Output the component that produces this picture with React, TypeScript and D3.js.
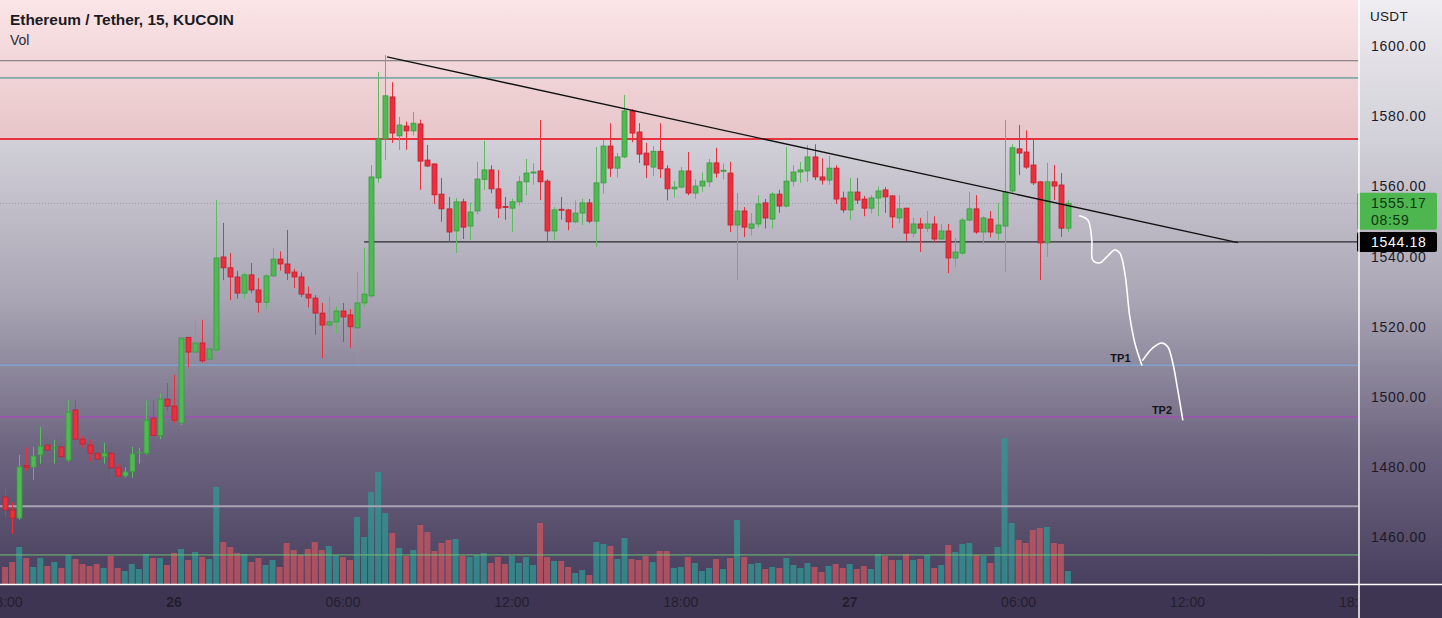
import React from 'react';
import * as d3 from 'd3';

// ---------- DATA ----------
const firstBarTime = Date.UTC(2023, 0, 25, 18, 0); // 25th 18:00, 15-minute bars
const barMs = 15 * 60 * 1000;

const opens = [
  1471.5, 1467.8, 1465.5, 1480.5, 1480, 1483.5, 1486.3, 1485.3, 1485.8, 1482, 1496.3, 1488, 1486.3, 1484, 1483, 1484, 1479.8, 1477.5, 1478.7, 1484, 1484, 1494, 1489, 1499.4,
  1497.4, 1492.6, 1517, 1512.8, 1515.4, 1510.8, 1513.4, 1539.9, 1536.8, 1534.2, 1529.6, 1534.8, 1530.5, 1527, 1534.5, 1539.3, 1537.9, 1535.6, 1534.2, 1529.3, 1528.2, 1523.9, 1520.5, 1521.4,
  1524.5, 1523.4, 1519.7, 1526.8, 1528.8, 1562.4, 1573.5, 1585.5, 1574.4, 1577.2, 1575.8, 1577.8, 1567.5, 1566.4, 1557.8, 1553.6, 1547.3, 1555.6, 1548.7, 1553, 1562, 1564.7, 1559.3, 1554.3,
  1553.8, 1555.6, 1561.3, 1564, 1564.4, 1561.5, 1547.3, 1553.5, 1553.3, 1549.9, 1552.4, 1555.3, 1550.1, 1561, 1571.5, 1565.2, 1568.4, 1581.5, 1575.5, 1569.5, 1565.5, 1570, 1565, 1559.3,
  1559.8, 1564.4, 1558.1, 1560.1, 1561.3, 1566.7, 1564.4, 1563.8, 1549, 1553, 1548.1, 1549.3, 1555.3, 1550.7, 1557.8, 1554.4, 1561.5, 1564.1, 1564.4, 1568.4, 1562.7, 1561.8, 1565.2, 1556.7,
  1553.3, 1558.4, 1556.4, 1553.8, 1556.7, 1559, 1557.3, 1551, 1553.8, 1546.7, 1549.3, 1548.1, 1549.3, 1545, 1547.3, 1539.6, 1541, 1550.4, 1553.6, 1547, 1550.7, 1546.7, 1548.7, 1558.7,
  1570.7, 1569.8, 1566.1, 1561.3, 1543.9, 1561.3, 1560.4, 1548.1,
];
const highs = [
  1474, 1470, 1483.5, 1485.6, 1485.8, 1491.5, 1488.6, 1487.8, 1488.6, 1499.1, 1499, 1489, 1487.9, 1487, 1487, 1487, 1481, 1480, 1485.8, 1485.5, 1499, 1499, 1501, 1504,
  1506.3, 1517.2, 1517.1, 1521.9, 1522, 1514.5, 1556.1, 1549.6, 1541, 1536, 1535.5, 1538.2, 1533.9, 1535, 1542.5, 1541.5, 1547.6, 1536.5, 1535.5, 1531.5, 1529, 1526.8, 1528.5, 1525.9,
  1526.8, 1525, 1535.6, 1542.5, 1566.1, 1592.6, 1597.4, 1589.7, 1579.8, 1578.5, 1581.2, 1579, 1571.8, 1566.5, 1562.4, 1557, 1556.7, 1556.5, 1555.3, 1567, 1573, 1566, 1564.7, 1557,
  1556.5, 1563, 1567.8, 1566.6, 1578.9, 1562, 1554.1, 1557, 1553.5, 1556, 1556.5, 1556.4, 1571.2, 1573.2, 1578, 1569.5, 1586, 1582, 1578, 1572.4, 1571.5, 1578, 1566, 1561.5,
  1565.5, 1569.8, 1562, 1564, 1567.8, 1571, 1566.5, 1567, 1558.1, 1554.1, 1552.4, 1557.5, 1556.4, 1558.4, 1559, 1571.2, 1566, 1567, 1571.8, 1572, 1568, 1568.7, 1566, 1558.5,
  1562.4, 1562.4, 1557.3, 1557.5, 1560, 1559.8, 1557.5, 1557.5, 1553.9, 1551, 1551, 1553, 1551.5, 1549.3, 1549.3, 1545.3, 1551, 1558.4, 1557.5, 1551.5, 1553, 1555.3, 1578.9, 1572,
  1577.5, 1576, 1573.2, 1561.5, 1566.7, 1566.1, 1563.8, 1556,
];
const lows = [
  1466, 1461, 1465, 1479, 1476.4, 1481, 1481, 1481, 1480, 1481.5, 1486.9, 1485.5, 1481.6, 1479.8, 1481, 1477, 1477, 1477, 1477, 1481, 1483.5, 1485.8, 1488, 1496,
  1492.6, 1492, 1508.5, 1512, 1509.7, 1510, 1513, 1533.3, 1527.6, 1528, 1528, 1529.6, 1524, 1525, 1534, 1536, 1533.3, 1531, 1528.5, 1525.5, 1517.7, 1511.1, 1519, 1518,
  1515.7, 1514, 1509.7, 1525.6, 1528, 1561, 1567.5, 1572.4, 1570.4, 1570.4, 1574.5, 1559, 1565.5, 1555, 1549.9, 1544.2, 1541, 1545, 1544.7, 1552, 1559, 1558, 1551, 1550.5,
  1547, 1554.5, 1557.5, 1560.5, 1556.1, 1544, 1544.7, 1550.5, 1547.5, 1549.5, 1549, 1549.5, 1542.7, 1557.9, 1562.7, 1562.5, 1568, 1572.6, 1566.7, 1562.4, 1563, 1562.4, 1556, 1556.8,
  1559.5, 1557.5, 1556.5, 1558.5, 1559.8, 1562.5, 1562, 1547, 1533.3, 1545.6, 1546, 1548.3, 1548, 1548, 1552.5, 1554, 1560, 1561, 1561.3, 1561.8, 1560.5, 1560.5, 1555, 1552.5,
  1550.4, 1555, 1551.5, 1552.3, 1551.5, 1552.5, 1548.1, 1549.5, 1544.5, 1545.5, 1541.3, 1547, 1544, 1544.8, 1535.3, 1537, 1540.5, 1550, 1546.5, 1543.6, 1545.5, 1544.7, 1535.6, 1558,
  1563.2, 1565, 1560.4, 1533.3, 1539.9, 1556.1, 1545.6, 1547,
];
const closes = [
  1467.8, 1465.5, 1480.1, 1480, 1483.2, 1486, 1484.9, 1485.6, 1483, 1495.7, 1488, 1486.6, 1484, 1482.3, 1484, 1479.8, 1477.5, 1478.7, 1483.8, 1484.3, 1493.4, 1489, 1499.4, 1497.4,
  1493.4, 1516.8, 1512.8, 1515.4, 1510.3, 1513.7, 1539.6, 1536.8, 1534.2, 1529.6, 1534.8, 1530.5, 1527, 1534.5, 1539.3, 1537.9, 1535.3, 1534.2, 1529.3, 1528.2, 1523.9, 1520.5, 1521.4, 1524.5,
  1522.8, 1520, 1526.8, 1529.3, 1562.7, 1573.5, 1585.8, 1575.2, 1577.5, 1575.8, 1578, 1567.2, 1565.8, 1557.6, 1553.6, 1547, 1555.6, 1548.4, 1552.7, 1562.1, 1564.7, 1559.3, 1553.8, 1554.0,
  1555.6, 1561.3, 1563.8, 1564.1, 1561.3, 1547.3, 1553.3, 1553.2, 1549.9, 1552.4, 1555.3, 1550.1, 1561, 1571.5, 1565.2, 1568.4, 1581.5, 1575.2, 1569.2, 1566.1, 1570, 1565, 1559.3, 1559.8,
  1564.4, 1558.1, 1560.1, 1561.5, 1566.7, 1563.8, 1564.6, 1549, 1553, 1548.4, 1549.3, 1555, 1551, 1557.8, 1554.4, 1561.5, 1564.1, 1564.7, 1568.4, 1562.7, 1561.8, 1565.2, 1556.4, 1553.3,
  1558.4, 1556.1, 1553.8, 1556.7, 1558.7, 1557, 1551.3, 1553.6, 1546.7, 1549.3, 1548.1, 1549.3, 1545, 1547.3, 1539.6, 1541.3, 1550.4, 1553.6, 1547, 1551, 1547, 1549, 1558.4, 1571,
  1569.5, 1565.5, 1561, 1543.9, 1561.3, 1560.1, 1548.1, 1555.17,
];
const volumes = [
  17, 22, 37, 26, 17, 26, 18, 22, 16, 29, 25, 20, 18, 20, 16, 28, 16, 13, 20, 15, 30, 26, 26, 19,
  31, 35, 24, 32, 27, 25, 97, 42, 37, 31, 30, 22, 26, 19, 24, 17, 41, 34, 29, 35, 42, 34, 38, 29,
  27, 24, 67, 47, 92, 112, 71, 51, 36, 28, 34, 59, 52, 33, 41, 44, 45, 28, 27, 29, 31, 21, 27, 20,
  28, 21, 27, 19, 61, 27, 23, 23, 17, 11, 14, 9, 42, 40, 38, 25, 46, 25, 24, 28, 22, 33, 33, 16,
  17, 27, 21, 13, 16, 25, 15, 26, 64, 27, 20, 21, 15, 17, 16, 26, 19, 16, 21, 17, 12, 18, 20, 16,
  20, 15, 18, 15, 30, 28, 24, 24, 30, 24, 25, 29, 16, 19, 39, 32, 40, 41, 29, 28, 21, 37, 146, 61,
  44, 41, 54, 56, 57, 41, 40, 13,
];

const priceTicks = [1600, 1580, 1560, 1540, 1520, 1500, 1480, 1460];
const timeTicks = [
  Date.UTC(2023, 0, 25, 18), Date.UTC(2023, 0, 26, 0), Date.UTC(2023, 0, 26, 6), Date.UTC(2023, 0, 26, 12),
  Date.UTC(2023, 0, 26, 18), Date.UTC(2023, 0, 27, 0), Date.UTC(2023, 0, 27, 6), Date.UTC(2023, 0, 27, 12),
  Date.UTC(2023, 0, 27, 18),
];
const timeTickLabels = ['18:00', '26', '06:00', '12:00', '18:00', '27', '06:00', '12:00', '18:00'];
const dayLabels = ['26', '27'];

const lastPrice = 1555.17;
const countdown = '08:59';
const supportPrice = 1544.18;
const supportStart = Date.UTC(2023, 0, 26, 6, 45);
const zoneTopLine = 1595.8;
const zoneMidLine = 1590.9;
const zoneBottom = 1573.5;
const tp1Price = 1509.1;
const tp2Price = 1494.3;
const volLevelA = 1468.9;
const volLevelB = 1455.0;
const trendTimes = [Date.UTC(2023, 0, 26, 7, 34), Date.UTC(2023, 0, 27, 13, 47)];
const trendPrices = [1596.9, 1544.0];
// hand-drawn projection (bar offsets from 26 00:00, prices)
const sketchBars = [128.69, 129.83, 130.4, 130.54, 131.53, 132.53, 133.66, 134.38, 135.09, 135.8, 136.51, 137.5];
const sketchPrices = [1551.6, 1550.4, 1544.7, 1539.0, 1538.2, 1539.9, 1541.9, 1541.0, 1535.3, 1522.8, 1515.4, 1509.1];
const sketch2Bars = [137.64, 139.06, 140.34, 141.19, 141.9, 142.61, 143.32];
const sketch2Prices = [1510.5, 1514.0, 1515.4, 1514.3, 1509.7, 1502.0, 1493.5];
const tpLabels = ['TP1', 'TP2'];
const tpLabelBars = [135.9, 141.8];
const tpLabelPrices = [1510.0, 1495.2];

// ---------- CHART ----------
const W = 1442;
const H = 618;
const plotRight = 1358.5;
const plotBottom = 584;

export default function App() {
  const x = d3.scaleUtc()
    .domain([Date.UTC(2023, 0, 26, 0), Date.UTC(2023, 0, 27, 0)])
    .range([174, 849.7]);
  const y = d3.scaleLinear().domain([1460, 1600]).range([537.4, 46]);
  const yVol = d3.scaleLinear().domain([0, 146]).range([plotBottom, 438]);
  const bodyW = 5;
  const volW = 6;
  const d0 = Date.UTC(2023, 0, 26, 0);

  const bars = opens.map((o, i) => ({
    t: firstBarTime + i * barMs,
    o, h: highs[i], l: lows[i], c: closes[i], v: volumes[i],
  }));

  const line = d3.line<[number, number]>().x(d => d[0]).y(d => d[1]).curve(d3.curveCatmullRom.alpha(0.5));
  const sk1 = sketchBars.map((b, i) => [x(d0 + b * barMs), y(sketchPrices[i])] as [number, number]);
  const sk2 = sketch2Bars.map((b, i) => [x(d0 + b * barMs), y(sketch2Prices[i])] as [number, number]);

  const green = '#4fba53';
  const greenEdge = '#3a9a3f';
  const red = '#ec2f3d';
  const redEdge = '#c21f2e';
  const font = '"Liberation Sans", Arial, sans-serif';

  return (
    <svg width={W} height={H} style={{ position: 'absolute', left: 0, top: 0, display: 'block' }}
      fontFamily={font}>
      <defs>
        <linearGradient id="bg" x1="0" y1="0" x2="0" y2={H} gradientUnits="userSpaceOnUse">
          <stop offset="0" stopColor="#efedf1" />
          <stop offset={139 / H} stopColor="#d2d0d8" />
          <stop offset={300 / H} stopColor="#a9a5b4" />
          <stop offset={450 / H} stopColor="#6d6580" />
          <stop offset={584 / H} stopColor="#483f5e" />
          <stop offset="1" stopColor="#3d3452" />
        </linearGradient>
        <linearGradient id="pink" x1="0" y1="0" x2="0" y2="1">
          <stop offset="0" stopColor="#fbe5e7" />
          <stop offset="1" stopColor="#e7c5c9" />
        </linearGradient>
        <clipPath id="plot">
          <rect x={0} y={0} width={plotRight} height={plotBottom} />
        </clipPath>
        <clipPath id="xaxis">
          <rect x={0} y={plotBottom} width={plotRight} height={H - plotBottom} />
        </clipPath>
      </defs>

      <rect x={0} y={0} width={W} height={H} fill="url(#bg)" />
      <rect x={0} y={0} width={plotRight} height={y(zoneBottom)} fill="url(#pink)" />
      <rect x={0} y={plotBottom} width={W} height={H - plotBottom} fill="#3e3553" />

      <g clipPath="url(#plot)">
        {/* volume */}
        {bars.map((b, i) => (
          <rect key={'v' + i} x={x(b.t) - volW / 2} y={yVol(b.v)} width={volW} height={plotBottom - yVol(b.v)}
            fill={b.c >= b.o ? '#2f9a94' : '#cc5560'} fillOpacity={0.75} />
        ))}

        {/* horizontal levels */}
        <line x1={0} x2={plotRight} y1={y(zoneTopLine)} y2={y(zoneTopLine)} stroke="#6f6f76" strokeWidth={1} />
        <line x1={0} x2={plotRight} y1={y(zoneMidLine)} y2={y(zoneMidLine)} stroke="#2d8a86" strokeWidth={1} />
        <line x1={0} x2={plotRight} y1={y(zoneBottom)} y2={y(zoneBottom)} stroke="#e8323e" strokeWidth={2} />
        <line x1={0} x2={plotRight} y1={y(lastPrice)} y2={y(lastPrice)} stroke="#9a96a4" strokeWidth={1} strokeDasharray="1 2" />
        <line x1={x(supportStart)} x2={plotRight} y1={y(supportPrice)} y2={y(supportPrice)} stroke="#2a2a30" strokeWidth={1.2} />
        <line x1={0} x2={plotRight} y1={y(tp1Price)} y2={y(tp1Price)} stroke="#7fa8d8" strokeWidth={1.3} />
        <line x1={0} x2={plotRight} y1={y(tp2Price)} y2={y(tp2Price)} stroke="#a04fb3" strokeWidth={1.6} />
        <line x1={0} x2={plotRight} y1={y(volLevelA)} y2={y(volLevelA)} stroke="#a7a2b4" strokeWidth={2} />
        <line x1={0} x2={plotRight} y1={y(volLevelB)} y2={y(volLevelB)} stroke="#6fbf73" strokeWidth={1} />

        {/* candles */}
        {bars.map((b, i) => {
          const up = b.c >= b.o;
          const cx = Math.round(x(b.t)) + 0.5;
          const top = y(Math.max(b.o, b.c));
          const bot = y(Math.min(b.o, b.c));
          return (
            <g key={'c' + i}>
              <line x1={cx} x2={cx} y1={y(b.h)} y2={y(b.l)} stroke={up ? '#5cbd60' : red} strokeWidth={1} />
              <rect x={cx - bodyW / 2} y={top} width={bodyW} height={Math.max(1, bot - top)}
                fill={up ? green : red} stroke={up ? greenEdge : redEdge} strokeWidth={0.8} />
            </g>
          );
        })}

        {/* trend line */}
        <line x1={x(trendTimes[0])} y1={y(trendPrices[0])} x2={x(trendTimes[1])} y2={y(trendPrices[1])}
          stroke="#111" strokeWidth={1.4} />

        {/* projection sketch */}
        <path d={line(sk1) || ''} fill="none" stroke="#ffffff" strokeWidth={1.6} strokeLinecap="round" />
        <path d={line(sk2) || ''} fill="none" stroke="#ffffff" strokeWidth={1.6} strokeLinecap="round" />
        {tpLabels.map((lab, i) => (
          <text key={lab} x={x(d0 + tpLabelBars[i] * barMs)} y={y(tpLabelPrices[i])} textAnchor="end"
            fontSize={11} fontWeight="bold" fill="#141418">{lab}</text>
        ))}
      </g>

      {/* title */}
      <text x={10} y={25} fontSize={15.4} fontWeight="bold" fill="#1a1a22">Ethereum / Tether, 15, KUCOIN</text>
      <text x={10} y={45} fontSize={14} fill="#2a2a30">Vol</text>

      {/* x axis */}
      <g clipPath="url(#xaxis)">
        {timeTicks.map((t, i) => (
          <text key={'xt' + i} x={x(t)} y={607} textAnchor="middle" fontSize={14}
            fontWeight={dayLabels.includes(timeTickLabels[i]) ? 'bold' : 'normal'} fill="#1c1a28" fillOpacity={0.85}>
            {timeTickLabels[i]}
          </text>
        ))}
      </g>

      {/* y axis */}
      <text x={1370} y={21} fontSize={13.5} fill="#1a1a22" letterSpacing={0.3}>USDT</text>
      {priceTicks.map(p => (
        <text key={'yt' + p} x={1371} y={y(p) + 5} fontSize={14} fill="#1c1a28" letterSpacing={0.7}>
          {p.toFixed(2)}
        </text>
      ))}
      <rect x={1357} y={y(lastPrice) - 10.5} width={80} height={37} rx={2} fill="#4db64f" />
      <text x={1371} y={y(lastPrice) + 5} fontSize={14} fill="#0f3512" letterSpacing={0.7}>{lastPrice.toFixed(2)}</text>
      <text x={1371} y={y(lastPrice) + 22} fontSize={14} fill="#0f3512" letterSpacing={0.7}>{countdown}</text>
      <rect x={1357} y={y(supportPrice) - 10} width={80} height={20} rx={2} fill="#000" />
      <text x={1371} y={y(supportPrice) + 5} fontSize={14} fill="#ffffff" letterSpacing={0.7}>{supportPrice.toFixed(2)}</text>

      {/* frame lines */}
      <line x1={0} x2={W} y1={plotBottom + 0.5} y2={plotBottom + 0.5} stroke="#ffffff" strokeWidth={1.5} />
      <line x1={plotRight + 0.5} x2={plotRight + 0.5} y1={0} y2={H} stroke="#ffffff" strokeWidth={1.5} />
    </svg>
  );
}
